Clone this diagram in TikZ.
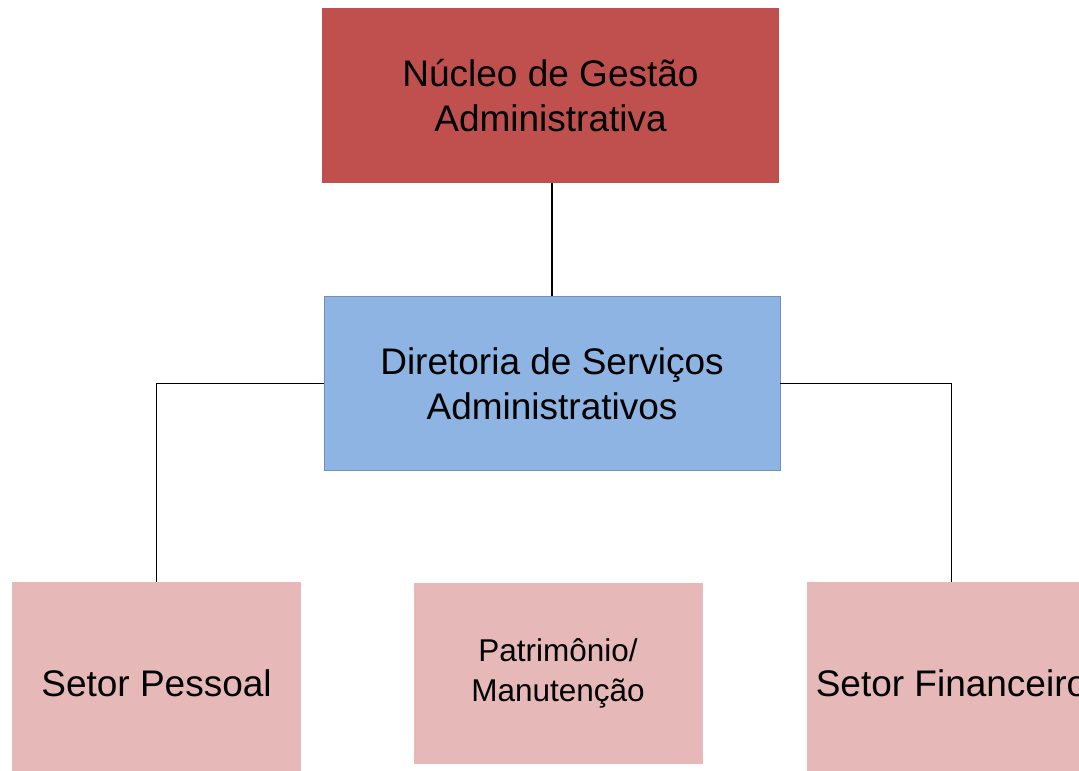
\documentclass[tikz,border=0pt]{standalone}
\usepackage{fontspec}
\setmainfont{Liberation Sans}
\usetikzlibrary{positioning}
\definecolor{nucleo}{HTML}{C0504D}
\definecolor{diretoria}{HTML}{8DB4E2}
\definecolor{setor}{HTML}{E6B9B8}
\tikzstyle{unit} = [rectangle, align=center, inner sep=0pt,
font=\fontsize{37}{45}\selectfont]
\tikzstyle{line} = [draw, line width=1.8pt, color=black]

\begin{document}
\begin{tikzpicture}[x=1pt, y=-1pt,
	sector/.style={unit, fill=setor, minimum width=289pt}]
	\useasboundingbox (0,0) rectangle (1079,771);
	\node [unit, fill=nucleo, minimum width=457pt, minimum height=175pt] (NGA) at (550.5,95.5) {Núcleo de Gestão\\Administrativa};
	\node [unit, fill=diretoria, draw=diretoria!80!black, line width=0.6pt, minimum width=456pt, minimum height=174pt, below=113pt of NGA.south, anchor=north, xshift=1.5pt] (DSA) {Diretoria de Serviços\\Administrativos};
	\node [sector, minimum height=202pt] (SP) at (156.5,683) {Setor Pessoal};
	\node [sector, minimum height=181pt, font=\fontsize{31.5}{40}\selectfont, text depth=6pt] (PM) at (558,673.5) {Patrimônio/\\Manutenção};
	\node [sector, minimum height=202pt] (SF) at (951.5,683) {Setor Financeiro};
	%% Links
	\path [line] (NGA.south -| DSA.north) -- (DSA.north);
	\path [line] (DSA.west) -| (SP.north);
	\path [line] (DSA.east) -| (SF.north);
\end{tikzpicture}
\end{document}
